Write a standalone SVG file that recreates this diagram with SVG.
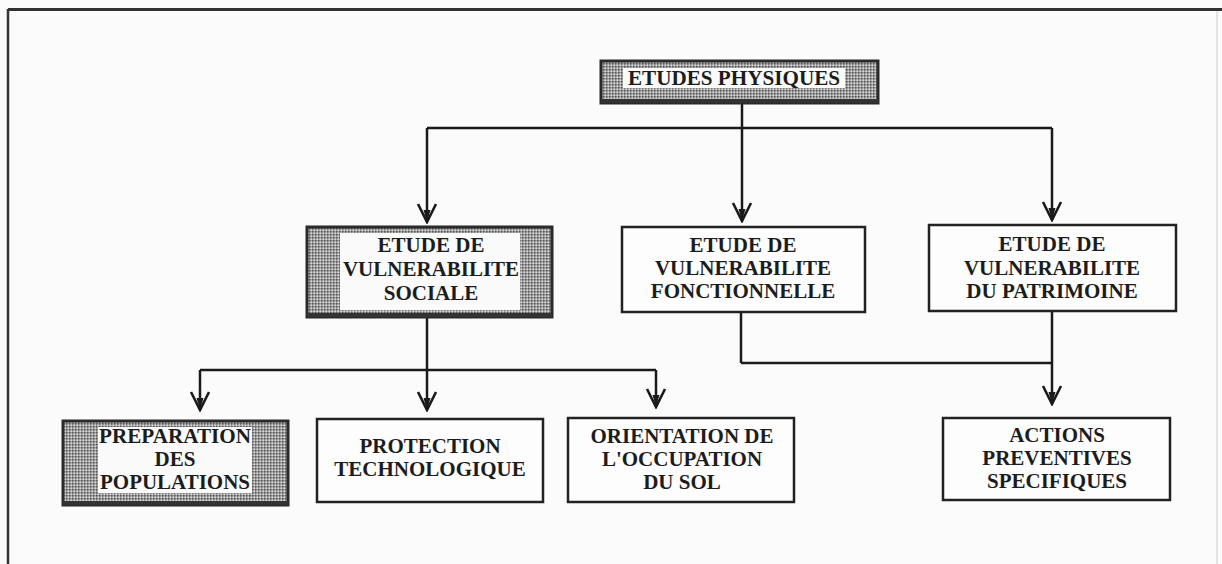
<svg xmlns="http://www.w3.org/2000/svg" width="1222" height="564" viewBox="0 0 1222 564">
<defs>
<pattern id="dots" width="3" height="3" patternUnits="userSpaceOnUse">
<rect width="3" height="3" fill="#9c9c9c"/>
<rect width="1.5" height="1.5" fill="#5a5a5a"/>
<rect x="1.5" y="1.5" width="1.5" height="1.5" fill="#d8d8d8"/>
</pattern>
<marker id="arr" viewBox="-20 -12 22 24" refX="0" refY="0" markerWidth="22" markerHeight="24" markerUnits="userSpaceOnUse" orient="auto">
<path d="M -18 -9 L 0 0 L -18 9" fill="none" stroke="#1a1a1a" stroke-width="2.6" stroke-linejoin="miter"/>
<path d="M -12 -3.5 L 0 0 L -12 3.5 Z" fill="#1a1a1a"/>
</marker>
<style>
.t{font-family:"Liberation Serif","Times New Roman",serif;font-weight:bold;font-size:21px;fill:#1c1c1c;text-anchor:middle}
.b{fill:#fdfdfd;stroke:#222;stroke-width:2.5}
.s{fill:url(#dots);stroke:#2a2a2a;stroke-width:3}
.w{fill:#fafafa}
.c{fill:none;stroke:#1a1a1a;stroke-width:2.5}
.a{marker-end:url(#arr)}
</style>
</defs>
<rect width="1222" height="564" fill="#fbfbfb"/>
<g id="frame">
<line x1="8" y1="9.5" x2="1222" y2="9.5" stroke="#333" stroke-width="3"/>
<line x1="8" y1="9" x2="8" y2="564" stroke="#333" stroke-width="2.5"/>
<line x1="1217" y1="11" x2="1217" y2="564" stroke="#ccc" stroke-width="1"/>
</g>
<g id="connectors">
<line class="c" x1="742" y1="103" x2="742" y2="128"/>
<line class="c" x1="427" y1="128" x2="1052" y2="128"/>
<line class="c a" x1="427" y1="128" x2="427" y2="222"/>
<line class="c a" x1="742" y1="128" x2="742" y2="221"/>
<line class="c a" x1="1052" y1="128" x2="1052" y2="220"/>
<line class="c" x1="427" y1="318" x2="427" y2="370"/>
<line class="c" x1="200" y1="370" x2="656" y2="370"/>
<line class="c a" x1="200" y1="370" x2="200" y2="410"/>
<line class="c a" x1="427" y1="370" x2="427" y2="410"/>
<line class="c a" x1="656" y1="370" x2="656" y2="407"/>
<line class="c" x1="741" y1="312" x2="741" y2="363"/>
<line class="c" x1="741" y1="363" x2="1052" y2="363"/>
<line class="c a" x1="1052" y1="311" x2="1052" y2="404"/>
</g>
<g id="etudes-physiques">
<rect class="s" x="601" y="61" width="277" height="42"/>
<rect x="601" y="99" width="277" height="4" fill="#333"/>
<rect class="w" x="623" y="68" width="222" height="20"/>
<text class="t" x="734" y="85" textLength="212" lengthAdjust="spacingAndGlyphs">ETUDES PHYSIQUES</text>
</g>
<g id="vuln-sociale">
<rect class="s" x="307" y="227" width="245" height="90"/>
<rect x="307" y="313" width="245" height="4" fill="#333"/>
<rect class="w" x="340" y="233" width="180" height="77"/>
<text class="t" x="431" y="252">ETUDE DE</text>
<text class="t" x="431" y="276">VULNERABILITE</text>
<text class="t" x="431" y="300">SOCIALE</text>
</g>
<g id="vuln-fonctionnelle">
<rect class="b" x="622" y="227" width="243" height="85"/>
<text class="t" x="743" y="252">ETUDE DE</text>
<text class="t" x="743" y="275">VULNERABILITE</text>
<text class="t" x="743" y="298">FONCTIONNELLE</text>
</g>
<g id="vuln-patrimoine">
<rect class="b" x="929" y="225" width="247" height="86"/>
<text class="t" x="1052" y="251">ETUDE DE</text>
<text class="t" x="1052" y="275">VULNERABILITE</text>
<text class="t" x="1052" y="298">DU PATRIMOINE</text>
</g>
<g id="preparation">
<rect class="s" x="63" y="421" width="225" height="84"/>
<rect x="63" y="501" width="225" height="4" fill="#333"/>
<rect class="w" x="98" y="427" width="154" height="66"/>
<text class="t" x="175" y="443" textLength="152" lengthAdjust="spacingAndGlyphs">PREPARATION</text>
<text class="t" x="175" y="466">DES</text>
<text class="t" x="175" y="489" textLength="150" lengthAdjust="spacingAndGlyphs">POPULATIONS</text>
</g>
<g id="protection">
<rect class="b" x="317" y="419" width="226" height="83"/>
<text class="t" x="430" y="453">PROTECTION</text>
<text class="t" x="430" y="476">TECHNOLOGIQUE</text>
</g>
<g id="orientation">
<rect class="b" x="568" y="418" width="226" height="84"/>
<text class="t" x="682" y="443">ORIENTATION DE</text>
<text class="t" x="682" y="466">L'OCCUPATION</text>
<text class="t" x="682" y="489">DU SOL</text>
</g>
<g id="actions">
<rect class="b" x="943" y="418" width="227" height="82"/>
<text class="t" x="1057" y="442">ACTIONS</text>
<text class="t" x="1057" y="465">PREVENTIVES</text>
<text class="t" x="1057" y="488">SPECIFIQUES</text>
</g>
</svg>
